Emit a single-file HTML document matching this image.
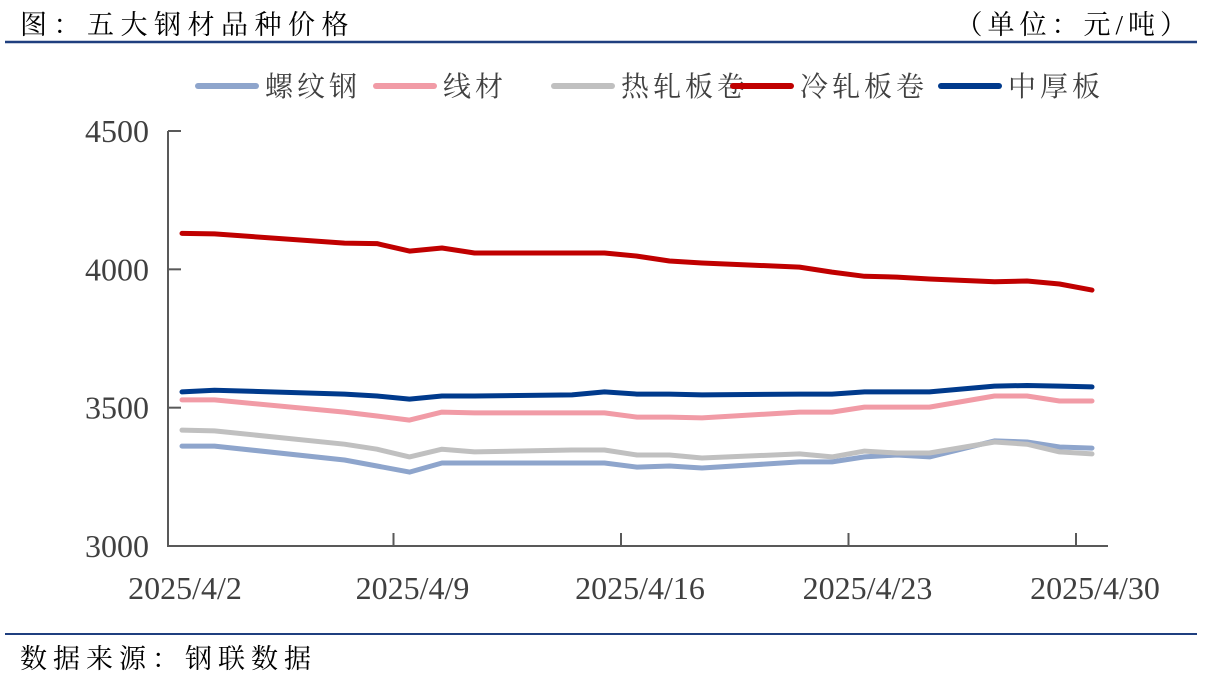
<!DOCTYPE html>
<html><head><meta charset="utf-8"><style>
body{margin:0;background:#fff;}
svg text{font-family:"Liberation Serif","Noto Serif CJK SC",serif;}
</style></head><body>
<svg width="1216" height="686" viewBox="0 0 1216 686">
<text x="20" y="34" font-size="27" letter-spacing="6.5" fill="#000">图：五大钢材品种价格</text>
<text x="1192" y="34" font-size="27" letter-spacing="5" fill="#000" text-anchor="end">（单位：元/吨）</text>
<line x1="5" y1="42" x2="1197" y2="42" stroke="#1f3f7f" stroke-width="2.5"/>
<g id="legend"></g>
<g id="axes"></g>
<g id="series"></g>
<line x1="5" y1="634" x2="1197" y2="634" stroke="#1f3f7f" stroke-width="2"/>
<text x="20" y="668" font-size="27" letter-spacing="6" fill="#000">数据来源：钢联数据</text>
</svg>
<script>
const days = [2,3,7,8,9,10,11,14,15,16,17,18,21,22,23,24,25,27,28,29,30];
const rebar = [3361,3361,3311,3289,3267,3300,3300,3300,3300,3285,3289,3282,3304,3304,3322,3329,3322,3380,3376,3358,3354];
const wire = [3528,3528,3484,3470,3455,3484,3481,3481,3481,3466,3466,3463,3484,3484,3502,3502,3502,3542,3542,3524,3524];
const hrc = [3419,3416,3368,3350,3322,3350,3340,3347,3347,3329,3329,3318,3333,3322,3343,3336,3336,3376,3368,3340,3333];
const crc = [4130,4128,4095,4093,4066,4077,4059,4059,4059,4048,4030,4023,4008,3990,3975,3972,3965,3955,3958,3947,3925];
const plate = [3557,3563,3549,3542,3531,3542,3542,3546,3557,3549,3549,3546,3549,3549,3557,3557,3557,3578,3580,3578,3575];
const seriesNames = ["螺纹钢","线材","热轧板卷","冷轧板卷","中厚板"];
const yTicks = [3000,3500,4000,4500];
const xTickDays = [2,9,16,23,30];
const xTickLabels = ["2025/4/2","2025/4/9","2025/4/16","2025/4/23","2025/4/30"];

const NS="http://www.w3.org/2000/svg";
const colors=["#8ea5cc","#f19ba6","#c0c0c0","#c00000","#003a8c"];
const keys=["rebar","wire","hrc","crc","plate"];
const data=[rebar,wire,hrc,crc,plate];
function xS(d){return 182+(d-2)*32.5;}
function yS(v){return 546-(v-3000)*(415/1500);}
function mk(tag,attrs,parent){const e=document.createElementNS(NS,tag);for(const k in attrs)e.setAttribute(k,attrs[k]);parent.appendChild(e);return e;}
const axes=document.getElementById('axes');
let e=mk('line',{x1:168,y1:131,x2:168,y2:547,stroke:'#595959','stroke-width':2},axes);


e=mk('line',{x1:167,y1:546,x2:1108,y2:546,stroke:'#595959','stroke-width':2},axes);


yTicks.forEach(v=>{
  const y=yS(v);
  let t=mk('line',{x1:168,y1:y,x2:181,y2:y,stroke:'#595959','stroke-width':2},axes);
  
  
  let l=mk('text',{x:149,y:y+11,'font-size':32,fill:'#404040','text-anchor':'end'},axes);
  l.textContent=v;
  
  
});
xTickDays.forEach((d,i)=>{
  const x=xS(d)-16;
  if(i>0){
    let t=mk('line',{x1:x,y1:533,x2:x,y2:546,stroke:'#595959','stroke-width':2},axes);
    
    
  }
  let l=mk('text',{x:xS(d)+3,y:599,'font-size':32,fill:'#404040','text-anchor':'middle'},axes);
  l.textContent=xTickLabels[i];
  
  
});
const sg=document.getElementById('series');
data.forEach((arr,i)=>{
  const pts=arr.map((v,j)=>xS(days[j]).toFixed(1)+','+yS(v).toFixed(1)).join(' ');
  let p=mk('polyline',{points:pts,fill:'none',stroke:colors[i],'stroke-width':5,'stroke-linejoin':'round','stroke-linecap':'round'},sg);
  
  
});
const lg=document.getElementById('legend');
const lx=[198,376,554,733,941];
seriesNames.forEach((n,i)=>{
  let l=mk('line',{x1:lx[i],y1:86,x2:lx[i]+58,y2:86,stroke:colors[i],'stroke-width':6,'stroke-linecap':'round'},lg);
  
  
  let t=mk('text',{x:lx[i]+67,y:96,'font-size':28,'letter-spacing':4,fill:'#404040'},lg);
  t.textContent=n;
  
  
});
</script>
</body></html>
